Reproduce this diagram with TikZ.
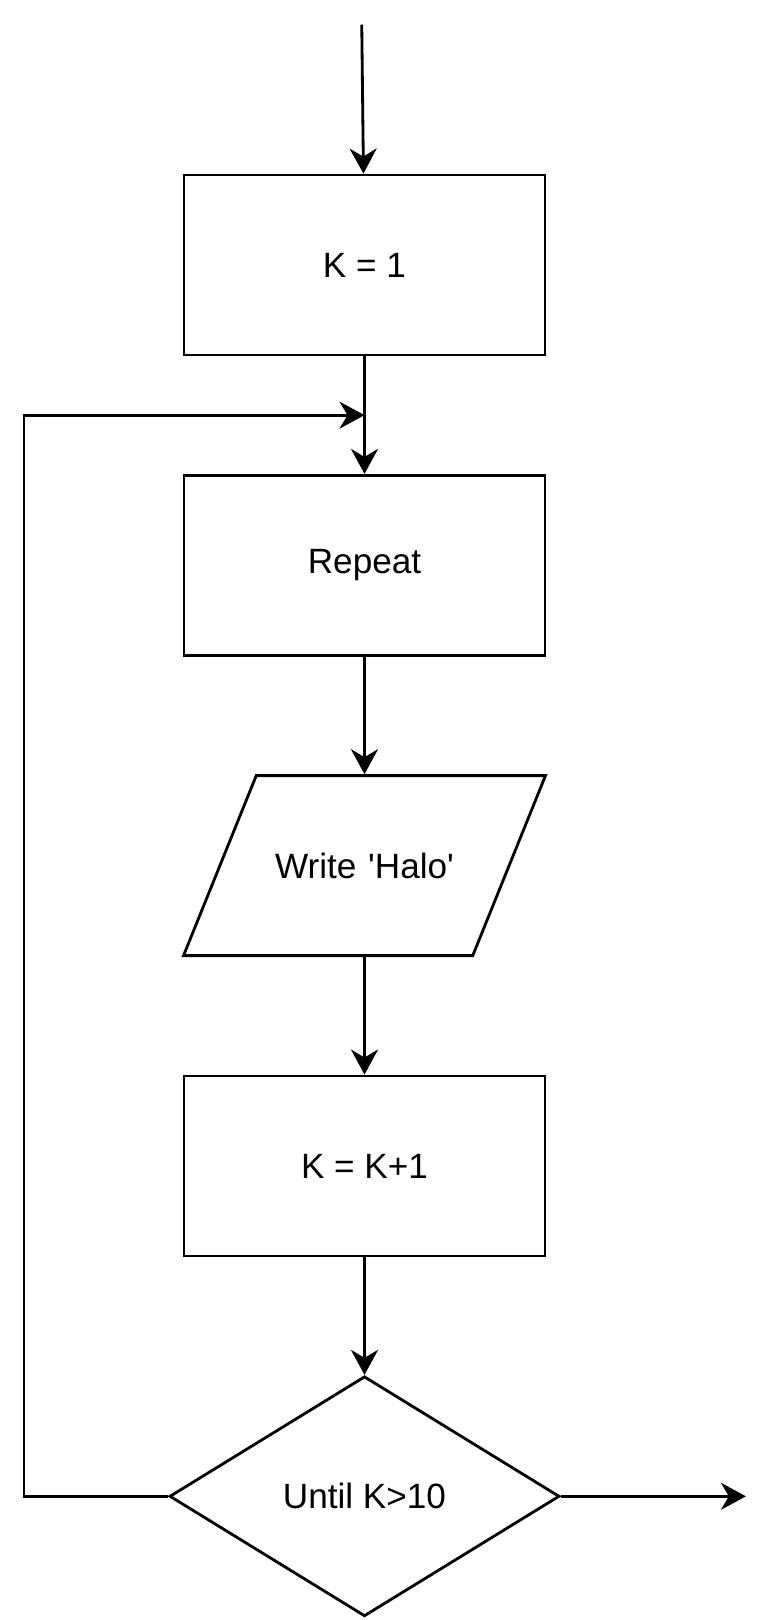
\documentclass[tikz,border=0pt]{standalone}
\usepackage{fontspec}
\setmainfont{Liberation Sans}
\usetikzlibrary{positioning,arrows.meta,calc,shapes.geometric}

\begin{document}
\begin{tikzpicture}[>={Stealth[length=5mm,width=5.4mm,inset=1.6mm]},node distance=23.5mm,
  line width=1.6pt,
  box/.style={draw,minimum width=72.2mm,minimum height=36mm,
              font=\fontsize{20}{24}\selectfont},
  io/.style={draw,trapezium,trapezium left angle=68,trapezium right angle=112,
             inner sep=0pt,text width=43.3mm,align=center,
             text height=20.5mm,text depth=15.5mm,
             font=\fontsize{20}{24}\selectfont},
  cond/.style={draw,diamond,minimum width=78mm,minimum height=48mm,inner sep=0pt,
               font=\fontsize{20}{24}\selectfont}]
\useasboundingbox (0,0) rectangle (15.48,-32.4);
\node[box] (k1) at (7.29,-5.3) {K = 1};
\node[box,below=of k1] (rep) {Repeat};
\node[io,below=of rep] (write) {Write \textquotesingle Halo\textquotesingle};
\node[box,below=of write] (inc) {K = K+1};
\node[cond,below=of inc] (until) {Until K>10};
\coordinate (start) at ($(k1.north)+(-0.055,2.98)$);
\coordinate (join) at ($(k1.south)!.5!(rep.north)$);
\coordinate[right=37mm of until.east] (exit);
\draw[->] (start) -- (k1);
\draw[->] (k1) -- (rep);
\draw[->] (rep) -- (write);
\draw[->] (write) -- (inc);
\draw[->] (inc) -- (until);
\draw[->] (until.west) -- ++(-2.88,0) |- (join);
\draw[->] (until) -- (exit);
\end{tikzpicture}
\end{document}
